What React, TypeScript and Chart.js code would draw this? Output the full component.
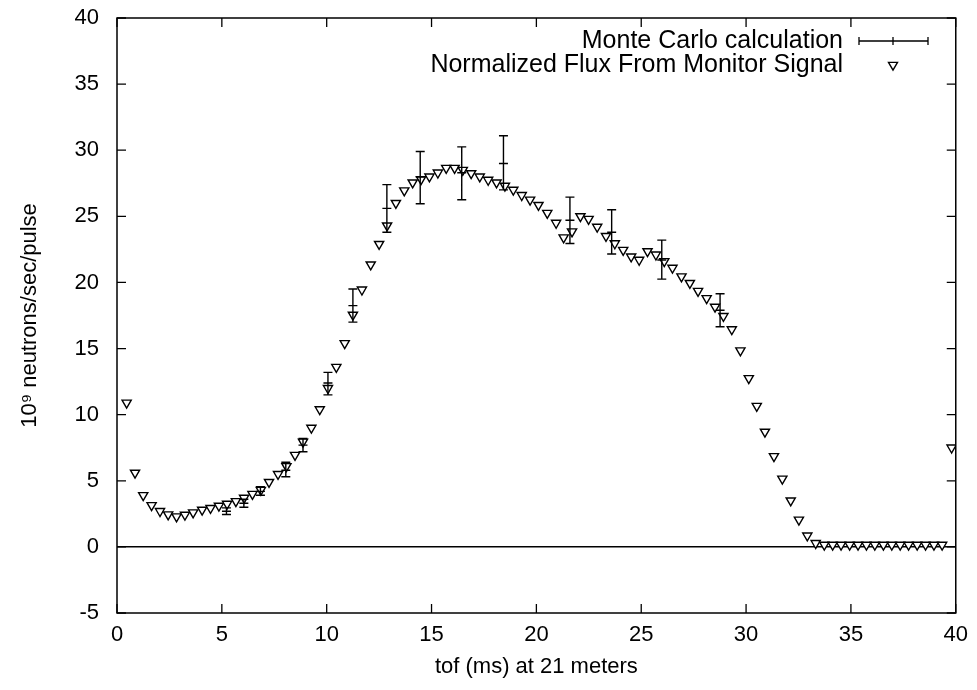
import React, { useEffect, useRef } from 'react';
import { Chart, registerables } from 'chart.js';

Chart.register(...registerables);

// Normalized flux from monitor signal (tof in ms, 10^9 neutrons/sec/pulse)
const fluxX = [
  0.46, 0.86, 1.25, 1.65, 2.05, 2.44, 2.84, 3.24, 3.63, 4.06,
  4.46, 4.86, 5.25, 5.67, 6.06, 6.46, 6.86, 7.25, 7.68, 8.08,
  8.49, 8.87, 9.27, 9.67, 10.06, 10.46, 10.86, 11.25, 11.68, 12.1,
  12.5, 12.88, 13.3, 13.7, 14.1, 14.5, 14.9, 15.3, 15.7, 16.1,
  16.49, 16.89, 17.3, 17.7, 18.1, 18.5, 18.9, 19.3, 19.7, 20.1,
  20.52, 20.94, 21.3, 21.7, 22.1, 22.49, 22.9, 23.32, 23.74, 24.14,
  24.52, 24.9, 25.3, 25.7, 26.1, 26.49, 26.92, 27.32, 27.71, 28.12,
  28.52, 28.92, 29.32, 29.73, 30.13, 30.51, 30.9, 31.33, 31.73, 32.13,
  32.52, 32.92, 33.32, 33.73, 34.13, 34.53, 34.94, 35.34, 35.74, 36.14,
  36.55, 36.95, 37.35, 37.75, 38.16, 38.56, 38.96, 39.35, 39.8,
];
const fluxY = [
  10.9, 5.6, 3.9, 3.15, 2.7, 2.45, 2.3, 2.42, 2.6, 2.8,
  2.93, 3.1, 3.25, 3.45, 3.7, 4.0, 4.3, 4.9, 5.5, 6.1,
  6.95, 7.95, 9.0, 10.4, 12.0, 13.6, 15.4, 17.55, 19.45, 21.35,
  22.9, 24.3, 26.0, 26.95, 27.55, 27.8, 28.0, 28.3, 28.65, 28.65,
  28.5, 28.25, 28.0, 27.75, 27.55, 27.3, 27.0, 26.6, 26.25, 25.85,
  25.25, 24.5, 23.4, 23.85, 25.0, 24.8, 24.2, 23.5, 22.95, 22.45,
  21.95, 21.7, 22.35, 22.1, 21.6, 21.1, 20.45, 19.95, 19.35, 18.8,
  18.15, 17.45, 16.45, 14.85, 12.75, 10.65, 8.7, 6.85, 5.15, 3.5,
  2.05, 0.85, 0.28, 0.15, 0.15, 0.15, 0.15, 0.15, 0.15, 0.15,
  0.15, 0.15, 0.15, 0.15, 0.15, 0.15, 0.15, 0.15, 7.5,
];

// Monte Carlo calculation with error bars
const mcX = [5.22, 6.05, 6.84, 8.05, 8.87, 10.06, 11.25, 12.87, 14.46, 16.44, 18.43, 21.6, 23.59, 25.98, 28.76];
const mcY = [2.7, 3.3, 4.2, 5.8, 7.7, 12.4, 18.25, 25.6, 27.97, 28.3, 29.0, 24.7, 23.8, 21.7, 17.9];
const mcLow = [2.45, 3.0, 3.9, 5.3, 7.2, 11.5, 17.0, 23.8, 25.95, 26.25, 27.0, 22.95, 22.15, 20.25, 16.65];
const mcHigh = [2.95, 3.6, 4.55, 6.4, 8.2, 13.2, 19.5, 27.4, 29.9, 30.25, 31.1, 26.45, 25.5, 23.2, 19.15];

const legendLabels = ['Monte Carlo calculation', 'Normalized Flux From Monitor Signal'];
const xTitle = 'tof (ms) at 21 meters';
const yTitle = '10\u2079 neutrons/sec/pulse';
const xRange = [0, 40];
const yRange = [-5, 40];
const tickStep = 5;

const FONT = "'Liberation Sans', Arial, Helvetica, sans-serif";

const frameTicksPlugin = {
  id: 'frameTicks',
  afterDraw(chart: any) {
    const { ctx, chartArea, scales } = chart;
    const { left, right, top, bottom } = chartArea;
    ctx.save();
    ctx.strokeStyle = '#000';
    ctx.lineWidth = 1.5;
    ctx.strokeRect(left, top, right - left, bottom - top);
    const len = 9;
    ctx.lineWidth = 1.3;
    ctx.beginPath();
    scales.x.ticks.forEach((t: any) => {
      const px = scales.x.getPixelForValue(t.value);
      ctx.moveTo(px, bottom);
      ctx.lineTo(px, bottom - len);
      ctx.moveTo(px, top);
      ctx.lineTo(px, top + len);
    });
    scales.y.ticks.forEach((t: any) => {
      const py = scales.y.getPixelForValue(t.value);
      ctx.moveTo(left, py);
      ctx.lineTo(left + len, py);
      ctx.moveTo(right, py);
      ctx.lineTo(right - len, py);
    });
    ctx.stroke();
    ctx.restore();
  },
};

const errorBarPlugin = {
  id: 'errorBars',
  afterDatasetsDraw(chart: any) {
    const { ctx, scales } = chart;
    const cap = 4.5;
    ctx.save();
    ctx.strokeStyle = '#000';
    ctx.lineWidth = 1.4;
    ctx.beginPath();
    for (let i = 0; i < mcX.length; i++) {
      const px = scales.x.getPixelForValue(mcX[i]);
      const pLo = scales.y.getPixelForValue(mcLow[i]);
      const pHi = scales.y.getPixelForValue(mcHigh[i]);
      const pMid = scales.y.getPixelForValue(mcY[i]);
      ctx.moveTo(px, pLo);
      ctx.lineTo(px, pHi);
      ctx.moveTo(px - cap, pLo);
      ctx.lineTo(px + cap, pLo);
      ctx.moveTo(px - cap, pHi);
      ctx.lineTo(px + cap, pHi);
      ctx.moveTo(px - cap, pMid);
      ctx.lineTo(px + cap, pMid);
    }
    ctx.stroke();
    ctx.restore();
  },
};

const legendPlugin = {
  id: 'gnuLegend',
  afterDraw(chart: any) {
    const { ctx } = chart;
    const textRight = 843;
    const rowY = [41, 65];
    ctx.save();
    ctx.fillStyle = '#000';
    ctx.font = `25px ${FONT}`;
    ctx.textAlign = 'right';
    ctx.textBaseline = 'middle';
    ctx.fillText(legendLabels[0], textRight, rowY[0]);
    ctx.fillText(legendLabels[1], textRight, rowY[1]);
    // error bar sample
    ctx.strokeStyle = '#000';
    ctx.lineWidth = 1.3;
    const x0 = 859, x1 = 928, xm = 893, h = 4;
    ctx.beginPath();
    ctx.moveTo(x0, rowY[0]);
    ctx.lineTo(x1, rowY[0]);
    ctx.moveTo(x0, rowY[0] - h);
    ctx.lineTo(x0, rowY[0] + h);
    ctx.moveTo(x1, rowY[0] - h);
    ctx.lineTo(x1, rowY[0] + h);
    ctx.moveTo(xm, rowY[0] - h);
    ctx.lineTo(xm, rowY[0] + h);
    ctx.stroke();
    // triangle sample
    const r = 5.2;
    const cy = rowY[1];
    ctx.beginPath();
    ctx.moveTo(xm, cy + r);
    ctx.lineTo(xm - r * 0.866, cy - r / 2);
    ctx.lineTo(xm + r * 0.866, cy - r / 2);
    ctx.closePath();
    ctx.fillStyle = '#fff';
    ctx.fill();
    ctx.lineWidth = 1.4;
    ctx.stroke();
    ctx.restore();
  },
};

export default function App() {
  const canvasRef = useRef<HTMLCanvasElement | null>(null);

  useEffect(() => {
    const canvas = canvasRef.current;
    if (!canvas) return;
    const chart = new Chart(canvas, {
      type: 'scatter',
      data: {
        datasets: [
          {
            label: legendLabels[0],
            data: mcX.map((x, i) => ({ x, y: mcY[i] })),
            pointRadius: 0,
            showLine: false,
            borderColor: '#000',
            backgroundColor: '#000',
          },
          {
            label: legendLabels[1],
            data: fluxX.map((x, i) => ({ x, y: fluxY[i] })),
            pointStyle: 'triangle',
            rotation: 180,
            pointRadius: 5.3,
            pointBorderWidth: 1.4,
            borderColor: '#000',
            backgroundColor: '#fff',
            showLine: false,
          },
        ],
      },
      options: {
        animation: false,
        responsive: true,
        maintainAspectRatio: false,
        layout: { padding: { left: 0, right: 20, top: 18, bottom: 0 } },
        plugins: {
          legend: { display: false },
          tooltip: { enabled: false },
          title: { display: false },
        },
        scales: {
          x: {
            type: 'linear',
            min: xRange[0],
            max: xRange[1],
            border: { display: false },
            grid: { display: false, drawTicks: false },
            ticks: {
              stepSize: tickStep,
              color: '#000',
              font: { family: FONT, size: 22 },
              padding: 9,
              maxRotation: 0,
            },
            title: {
              display: true,
              text: xTitle,
              color: '#000',
              font: { family: FONT, size: 22 },
              padding: { top: 0, bottom: 10 },
            },
            afterFit(scale: any) {
              scale.height = 77;
            },
          },
          y: {
            type: 'linear',
            min: yRange[0],
            max: yRange[1],
            border: { display: false },
            grid: {
              drawTicks: false,
              color: (c: any) => (c.tick && c.tick.value === 0 ? '#000' : 'rgba(0,0,0,0)'),
              lineWidth: 1.5,
            },
            ticks: {
              stepSize: tickStep,
              color: '#000',
              font: { family: FONT, size: 22 },
              padding: 18,
            },
            title: {
              display: true,
              text: yTitle,
              color: '#000',
              font: { family: FONT, size: 22 },
              padding: { top: 17, bottom: 0 },
            },
            afterFit(scale: any) {
              scale.width = 117;
              scale.paddingTop = 0;
              scale.paddingBottom = 0;
            },
          },
        },
      },
      plugins: [errorBarPlugin, frameTicksPlugin, legendPlugin],
    });
    return () => chart.destroy();
  }, []);

  return (
    <div style={{ position: 'fixed', left: 0, top: 0, width: 977, height: 690, background: '#fff' }}>
      <canvas ref={canvasRef} />
    </div>
  );
}
